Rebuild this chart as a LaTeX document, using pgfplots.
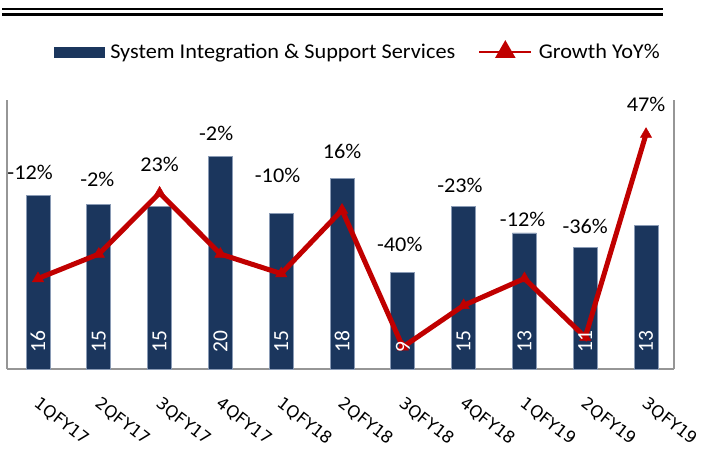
\documentclass[border=0pt]{standalone}
\usepackage{pgfplots}
\pgfplotsset{compat=1.18}
\usepackage{fontspec}
\setmainfont[FakeStretch=1.06]{Carlito}
\newfontfamily\plainfont{Carlito}
\newfontfamily\tickfont{DejaVu Sans}
\definecolor{navy}{HTML}{1B365D}
\definecolor{baredge}{HTML}{8A9BB5}
\definecolor{dred}{HTML}{C00000}
\definecolor{axgray}{HTML}{969696}
\begin{document}
\begin{tikzpicture}
\path[use as bounding box] (0pt,0pt) rectangle (702pt,450pt);
% top double rule
\draw[line width=2.5pt] (2pt,440.8pt) -- (663pt,440.8pt);
\draw[line width=3pt] (2pt,435.2pt) -- (663pt,435.2pt);

\begin{axis}[
  at={(7pt,81pt)}, anchor=south west,
  scale only axis, width=667pt, height=269pt,
  xmin=-0.51, xmax=10.46, ymin=0, ymax=25.3,
  axis x line*=bottom, axis y line*=left,
  axis line style={draw=axgray, line width=2pt},
  ytick=\empty,
  xtick={0,...,10},
  xticklabels={1QFY17,2QFY17,3QFY17,4QFY17,1QFY18,2QFY18,3QFY18,4QFY18,1QFY19,2QFY19,3QFY19},
  major tick length=0pt,
  xticklabel style={font=\tickfont\fontsize{16.5}{19}\selectfont, inner sep=0pt, xshift=3pt, yshift=-27pt, rotate=-38, anchor=north west},
  clip=false,
]
\addplot[ybar, bar width=24pt, fill=navy, draw=baredge, line width=0.7pt] coordinates {
(0,16.3) (1,15.5) (2,15.3) (3,20.0) (4,14.6) (5,17.9) (6,9.1) (7,15.3) (8,12.8) (9,11.4) (10,13.5)};
\end{axis}

\begin{axis}[
  at={(7pt,81pt)}, anchor=south west,
  scale only axis, width=667pt, height=269pt,
  xmin=-0.51, xmax=10.46, ymin=-49, ymax=61,
  axis x line=none, axis y line*=right,
  axis line style={draw=axgray, line width=2pt},
  ytick=\empty, xtick=\empty,
  clip=false,
  legend columns=2,
  legend style={draw=none, fill=none, inner sep=0pt, at={(0.07,1.178)}, anchor=west,
    font=\fontsize{21}{25}\selectfont, /tikz/every even column/.append style={column sep=21pt}},
  legend cell align=left,
]
\addlegendimage{legend image code/.code={\fill[navy] (0pt,-5pt) rectangle (50pt,5pt); \path (54pt,0pt);}}
\addlegendentry{System Integration \& Support Services}
\addplot[dred, line width=5pt, mark=triangle*, mark size=6.5pt, mark options={solid, line width=0.5pt},
  legend image code/.code={\draw[dred, line width=2pt] (0pt,0pt) -- (52pt,0pt);
    \fill[dred] (26pt,0pt) ++(90:7pt) -- ++(-120:12pt) -- ++(0:12pt) -- cycle; \path (55pt,0pt);}] coordinates {
(0,-12) (1,-2) (2,23) (3,-2) (4,-10) (5,16) (6,-40) (7,-23) (8,-12) (9,-36) (10,47)};
\addlegendentry{Growth YoY\%}
% bar value labels (inside base)
\addplot[forget plot, draw=none, mark=none, nodes near coords, point meta=explicit symbolic,
  every node near coord/.style={anchor=west, rotate=90, inner sep=0pt, text=white, font=\plainfont\fontsize{21.5}{25}\selectfont}]
  table[meta=l] {
x y l
0 -42.4 16
1 -42.4 15
2 -42.4 15
3 -42.4 20
4 -42.4 15
5 -42.4 18
6 -42.4 9
7 -42.4 15
8 -42.4 13
9 -42.4 11
10 -42.4 13
};
% growth labels
\addplot[forget plot, draw=none, mark=none, nodes near coords, point meta=explicit symbolic,
  every node near coord/.style={anchor=center, inner sep=0pt, text=black, font=\fontsize{21}{25}\selectfont}]
  table[meta=l] {
x y l
-0.13 31.2 -12\%
0.975 28.6 -2\%
2.0 34.8 23\%
2.93 47.4 -2\%
3.94 30.3 -10\%
5.0 40.1 16\%
5.95 2.0 -40\%
6.94 26.2 -23\%
7.97 12.3 -12\%
9.0 9.4 -36\%
10.0 59.3 47\%
};
\end{axis}
\end{tikzpicture}
\end{document}
